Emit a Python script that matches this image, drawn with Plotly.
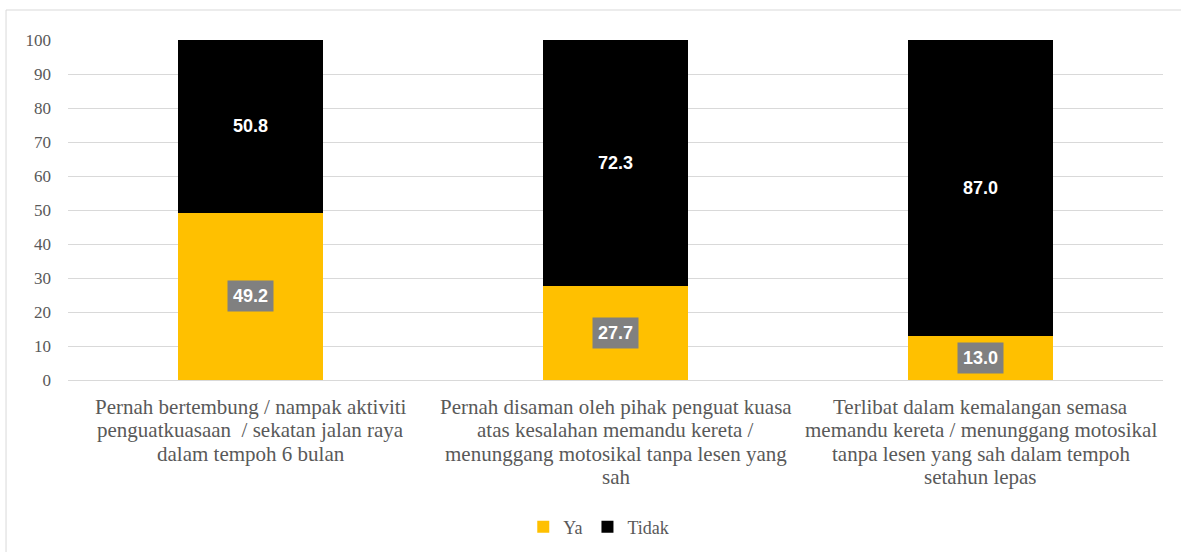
import plotly.graph_objects as go

categories = ["Kategori 1", "Kategori 2", "Kategori 3"]
category_labels = [
    ["Pernah bertembung / nampak aktiviti", "penguatkuasaan  / sekatan jalan raya", "dalam tempoh 6 bulan"],
    ["Pernah disaman oleh pihak penguat kuasa", "atas kesalahan memandu kereta /", "menunggang motosikal tanpa lesen yang", "sah"],
    ["Terlibat dalam kemalangan semasa", "memandu kereta / menunggang motosikal", "tanpa lesen yang sah dalam tempoh", "setahun lepas"],
]
ya = [49.2, 27.7, 13.0]
tidak = [50.8, 72.3, 87.0]

SERIF = "Liberation Serif, Times New Roman, serif"
SANS = "Liberation Sans, Arial, sans-serif"
GRAY = "#595959"

fig = go.Figure()
fig.add_trace(go.Bar(name="Ya", x=categories, y=ya, marker=dict(color="#FFC000", line=dict(width=0))))
fig.add_trace(go.Bar(name="Tidak", x=categories, y=tidak, marker=dict(color="#000000", line=dict(width=0))))

for c, a, b in zip(categories, ya, tidak):
    fig.add_annotation(x=c, y=a / 2, text=f"<b>{a:.1f}</b>", showarrow=False,
                       font=dict(family=SANS, size=18, color="white"),
                       bgcolor="#808080", borderpad=5)
    fig.add_annotation(x=c, y=a + b / 2, text=f"<b>{b:.1f}</b>", showarrow=False,
                       font=dict(family=SANS, size=18, color="white"))

for c, lines in zip(categories, category_labels):
    for i, line in enumerate(lines):
        fig.add_annotation(x=c, y=0, yref="y", text=line, showarrow=False,
                           yanchor="middle", xanchor="center", yshift=-(27 + i * 23.4),
                           font=dict(family=SERIF, size=21, color=GRAY))

fig.add_shape(type="rect", xref="paper", yref="paper", x0=-0.0566, x1=1.2, y0=-1, y1=1.0882,
              line=dict(color="#d9d9d9", width=1), layer="below")

fig.update_layout(
    barmode="stack",
    bargap=0.603,
    width=1181, height=552,
    margin=dict(l=68, r=18, t=40, b=172),
    paper_bgcolor="white", plot_bgcolor="white",
    font=dict(family=SERIF, color=GRAY, size=18),
    legend=dict(orientation="h", xref="container", yref="container", x=0.507, y=0.045,
                xanchor="center", yanchor="middle",
                font=dict(family=SERIF, size=18, color=GRAY), itemwidth=30, traceorder="normal"),
    xaxis=dict(showticklabels=False, showline=False, ticks=""),
    yaxis=dict(range=[0, 100], dtick=10, gridcolor="#d9d9d9", gridwidth=1, zeroline=True,
               zerolinecolor="#d9d9d9", zerolinewidth=1, showline=False, ticks="",
               tickfont=dict(family=SERIF, size=17, color=GRAY), ticklabelstandoff=16),
)

fig.write_html("out.html")
